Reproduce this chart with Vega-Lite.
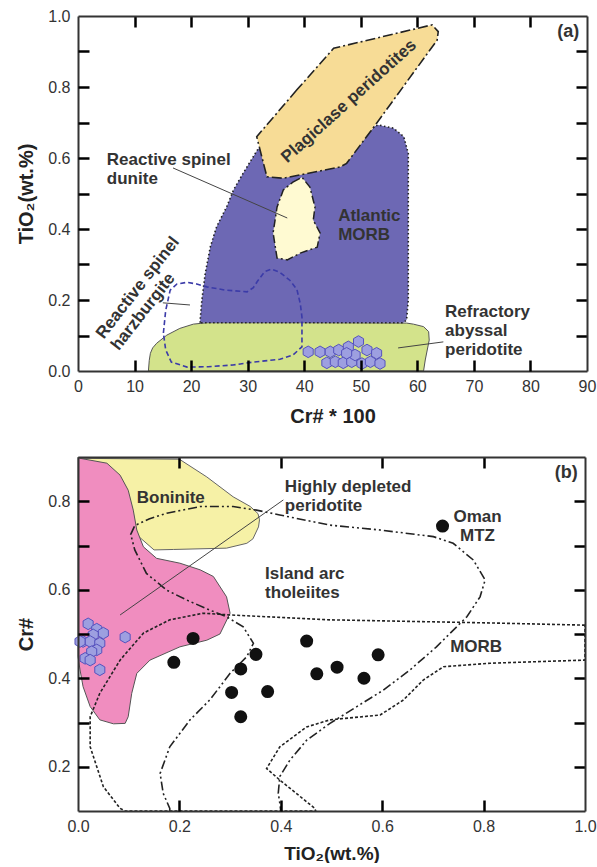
{
  "$schema": "https://vega.github.io/schema/vega-lite/v6.json",
  "padding": {"left": 16, "top": 8, "right": 5, "bottom": 0},
  "spacing": 29,
  "config": {
    "font": "Liberation Sans",
    "view": {"stroke": null},
    "axis": {"grid": false, "domain": true, "domainColor": "#333", "domainWidth": 2, "tickColor": "#000", "tickWidth": 2.5, "tickSize": 11,
      "labelFont": "Liberation Sans", "labelFontSize": 16, "labelColor": "#333", "labelFlush": false, "labelOverlap": false, "labelBound": false,
      "titleFont": "Liberation Sans", "titleFontSize": 20, "titleFontWeight": "bold", "titleColor": "#222"},
    "axisX": {"labelPadding": 7, "titlePadding": 12},
    "axisY": {"labelPadding": 8, "titlePadding": 11},
    "text": {"font": "Liberation Sans", "fontWeight": "bold", "fontSize": 17, "fill": "#333", "lineHeight": 19, "lineBreak": "\n", "baseline": "middle"}
  },
  "datasets": {
    "a_green": [
      {"x":12.45,"y":0},{"x":12.6,"y":0.03},{"x":12.8,"y":0.05},{"x":13.2,"y":0.065},{"x":13.9,"y":0.078},{"x":15.7,"y":0.101},{"x":18.0,"y":0.12},{"x":20.4,"y":0.132},{"x":22.8,"y":0.136},{"x":40,"y":0.136},{"x":58.1,"y":0.135},{"x":59.3,"y":0.132},{"x":61.1,"y":0.125},{"x":62,"y":0.111},{"x":62.1,"y":0.087},{"x":61.4,"y":0.031},{"x":61.1,"y":0}
    ],
    "a_purple": [
      {"x":21.6,"y":0.136},{"x":21.6,"y":0.144},{"x":21.9,"y":0.2},{"x":22.5,"y":0.275},{"x":23.4,"y":0.35},{"x":24.5,"y":0.406},{"x":26.3,"y":0.463},{"x":27.5,"y":0.51},{"x":29.2,"y":0.557},{"x":31,"y":0.604},{"x":31.9,"y":0.627},{"x":34,"y":0.6},{"x":36,"y":0.56},{"x":46,"y":0.58},{"x":52.5,"y":0.69},{"x":53.1,"y":0.693},{"x":55.8,"y":0.684},{"x":57.6,"y":0.66},{"x":58.4,"y":0.613},{"x":58.4,"y":0.48},{"x":58.4,"y":0.2},{"x":58.1,"y":0.144},{"x":57.5,"y":0.136}
    ],
    "a_plag": [
      {"x":38.7,"y":0.792},{"x":31.6,"y":0.66},{"x":33.4,"y":0.547},{"x":36.3,"y":0.543},{"x":46.4,"y":0.575},{"x":47.5,"y":0.585},{"x":52.8,"y":0.698},{"x":63.5,"y":0.932},{"x":63.7,"y":0.956},{"x":62.6,"y":0.975},{"x":45.2,"y":0.909}
    ],
    "a_dunite": [
      {"x":38.0,"y":0.532},{"x":39.6,"y":0.546},{"x":41.0,"y":0.518},{"x":41.9,"y":0.462},{"x":41.6,"y":0.425},{"x":42.8,"y":0.389},{"x":42.3,"y":0.349},{"x":39.3,"y":0.332},{"x":37.0,"y":0.313},{"x":35.2,"y":0.318},{"x":34.5,"y":0.389},{"x":35.2,"y":0.462},{"x":36.3,"y":0.51}
    ],
    "a_harz": [
      {"x":15.1,"y":0.107},{"x":15.5,"y":0.17},{"x":16.3,"y":0.228},{"x":17.5,"y":0.245},{"x":19.3,"y":0.25},{"x":21,"y":0.245},{"x":22.8,"y":0.237},{"x":26,"y":0.228},{"x":29.9,"y":0.223},{"x":31,"y":0.235},{"x":31.7,"y":0.252},{"x":33,"y":0.28},{"x":34.2,"y":0.287},{"x":35.7,"y":0.278},{"x":37.5,"y":0.255},{"x":38.7,"y":0.23},{"x":39.3,"y":0.19},{"x":39.6,"y":0.152},{"x":39.6,"y":0.068},{"x":38,"y":0.045},{"x":35.7,"y":0.033},{"x":31,"y":0.025},{"x":27.4,"y":0.017},{"x":23,"y":0.012},{"x":19.3,"y":0.011},{"x":16.5,"y":0.025},{"x":15.5,"y":0.06}
    ],
    "a_hex": [
      {"x":40.7,"y":0.054},{"x":42.8,"y":0.054},{"x":44.6,"y":0.054},{"x":46.1,"y":0.059},{"x":47.8,"y":0.068},{"x":49.6,"y":0.083},{"x":51.1,"y":0.059},{"x":52.8,"y":0.05},{"x":44.0,"y":0.023},{"x":45.5,"y":0.026},{"x":46.9,"y":0.023},{"x":48.4,"y":0.026},{"x":50.2,"y":0.021},{"x":51.7,"y":0.026},{"x":53.4,"y":0.021},{"x":49.0,"y":0.045},{"x":47.5,"y":0.05}
    ],
    "a_lead": [
      {"x":16.8,"y":0.572,"x2":37.0,"y2":0.431},
      {"x":15.0,"y":0.192,"x2":19.8,"y2":0.186},
      {"x":56.6,"y":0.065,"x2":64.6,"y2":0.082}
    ],
    "a_text": [
      {"x":5.1,"y":0.594,"t":"Reactive spinel\ndunite"},
      {"x":46.0,"y":0.437,"t":"Atlantic\nMORB"},
      {"x":64.9,"y":0.166,"t":"Refractory\nabyssal\nperidotite"}
    ],
    "a_plagtext": [{"x":47.9,"y":0.76,"t":"Plagiclase peridotites"}],
    "a_harztext": [{"x":3.84,"y":0.097,"t":"Reactive spinel\nharzburgite"}],
    "a_tag": [{"x":86.7,"y":0.955,"t":"(a)"}],
    "b_bon": [
      {"x":0.004,"y":0.897},{"x":0.2,"y":0.895},{"x":0.254,"y":0.855},{"x":0.306,"y":0.81},{"x":0.34,"y":0.788},{"x":0.355,"y":0.772},{"x":0.358,"y":0.758},{"x":0.356,"y":0.742},{"x":0.345,"y":0.715},{"x":0.333,"y":0.705},{"x":0.293,"y":0.694},{"x":0.188,"y":0.691},{"x":0.15,"y":0.69},{"x":0.12,"y":0.72},{"x":0.08,"y":0.8},{"x":0.04,"y":0.88}
    ],
    "b_pink": [
      {"x":0,"y":0.9},{"x":0.004,"y":0.897},{"x":0.057,"y":0.886},{"x":0.083,"y":0.859},{"x":0.099,"y":0.825},{"x":0.109,"y":0.78},{"x":0.116,"y":0.735},{"x":0.129,"y":0.697},{"x":0.155,"y":0.671},{"x":0.201,"y":0.66},{"x":0.241,"y":0.645},{"x":0.267,"y":0.63},{"x":0.293,"y":0.584},{"x":0.3,"y":0.547},{"x":0.28,"y":0.5},{"x":0.254,"y":0.486},{"x":0.201,"y":0.471},{"x":0.142,"y":0.441},{"x":0.116,"y":0.411},{"x":0.106,"y":0.366},{"x":0.099,"y":0.313},{"x":0.093,"y":0.298},{"x":0.07,"y":0.297},{"x":0.043,"y":0.306},{"x":0.024,"y":0.336},{"x":0.01,"y":0.381},{"x":0.004,"y":0.419},{"x":0,"y":0.449}
    ],
    "b_morb": [
      {"x":1.0,"y":0.52},{"x":0.813,"y":0.525},{"x":0.497,"y":0.532},{"x":0.3,"y":0.543},{"x":0.247,"y":0.547},{"x":0.181,"y":0.532},{"x":0.129,"y":0.502},{"x":0.083,"y":0.441},{"x":0.043,"y":0.366},{"x":0.024,"y":0.313},{"x":0.024,"y":0.245},{"x":0.05,"y":0.155},{"x":0.083,"y":0.106},{"x":0.093,"y":0.1},{"x":0.469,"y":0.1},{"x":0.467,"y":0.106},{"x":0.398,"y":0.17},{"x":0.372,"y":0.196},{"x":0.398,"y":0.245},{"x":0.451,"y":0.29},{"x":0.497,"y":0.306},{"x":0.596,"y":0.317},{"x":0.642,"y":0.351},{"x":0.681,"y":0.396},{"x":0.721,"y":0.426},{"x":0.813,"y":0.434},{"x":1.0,"y":0.441}
    ],
    "b_iat": [
      {"x":0.181,"y":0.1},{"x":0.181,"y":0.106},{"x":0.168,"y":0.14},{"x":0.162,"y":0.185},{"x":0.181,"y":0.245},{"x":0.221,"y":0.306},{"x":0.26,"y":0.351},{"x":0.3,"y":0.411},{"x":0.333,"y":0.449},{"x":0.346,"y":0.479},{"x":0.326,"y":0.516},{"x":0.293,"y":0.539},{"x":0.26,"y":0.554},{"x":0.214,"y":0.577},{"x":0.175,"y":0.599},{"x":0.135,"y":0.637},{"x":0.112,"y":0.69},{"x":0.104,"y":0.725},{"x":0.112,"y":0.745},{"x":0.14,"y":0.76},{"x":0.175,"y":0.773},{"x":0.241,"y":0.788},{"x":0.306,"y":0.788},{"x":0.352,"y":0.78},{"x":0.398,"y":0.769},{"x":0.497,"y":0.746},{"x":0.596,"y":0.735},{"x":0.701,"y":0.72},{"x":0.74,"y":0.705},{"x":0.78,"y":0.667},{"x":0.803,"y":0.622},{"x":0.793,"y":0.584},{"x":0.767,"y":0.539},{"x":0.707,"y":0.471},{"x":0.655,"y":0.419},{"x":0.602,"y":0.373},{"x":0.55,"y":0.336},{"x":0.497,"y":0.298},{"x":0.451,"y":0.26},{"x":0.418,"y":0.215},{"x":0.398,"y":0.178},{"x":0.395,"y":0.14},{"x":0.398,"y":0.118},{"x":0.4,"y":0.1}
    ],
    "b_hex": [
      {"x":0.020,"y":0.523},{"x":0.037,"y":0.511},{"x":0.050,"y":0.502},{"x":0.030,"y":0.498},{"x":0.010,"y":0.483},{"x":0.024,"y":0.483},{"x":0.043,"y":0.479},{"x":0.004,"y":0.483},{"x":0.037,"y":0.464},{"x":0.027,"y":0.460},{"x":0.014,"y":0.445},{"x":0.024,"y":0.441},{"x":0.043,"y":0.419},{"x":0.093,"y":0.493}
    ],
    "b_pts": [
      {"x":0.227,"y":0.49},{"x":0.189,"y":0.436},{"x":0.351,"y":0.454},{"x":0.321,"y":0.421},{"x":0.303,"y":0.368},{"x":0.374,"y":0.37},{"x":0.321,"y":0.313},{"x":0.451,"y":0.484},{"x":0.471,"y":0.41},{"x":0.511,"y":0.425},{"x":0.564,"y":0.4},{"x":0.592,"y":0.453},{"x":0.719,"y":0.744}
    ],
    "b_lead": [{"x":0.083,"y":0.543,"x2":0.405,"y2":0.803}],
    "b_text": [
      {"x":0.116,"y":0.807,"t":"Boninite"},
      {"x":0.408,"y":0.832,"t":"Highly depleted\nperidotite"},
      {"x":0.369,"y":0.636,"t":"Island arc\ntholeiites"},
      {"x":0.734,"y":0.471,"t":"MORB"}
    ],
    "b_oman": [{"x":0.788,"y":0.764,"t":"Oman\nMTZ"}],
    "b_tag": [{"x":0.963,"y":0.864,"t":"(b)"}]
  },
  "vconcat": [
    {
      "width": 509,
      "height": 355,
      "resolve": {"axis": {"x": "independent", "y": "independent"}},
      "layer": [
        {
          "data": {"name": "a_green"},
          "mark": {"type": "line", "interpolate": "linear-closed", "fill": "#d3e38b", "stroke": "#555", "strokeWidth": 1},
          "encoding": {
            "x": {"field": "x", "type": "quantitative", "scale": {"domain": [0, 90], "nice": false, "zero": false},
              "axis": {"orient": "bottom", "values": [0,10,20,30,40,50,60,70,80,90], "title": "Cr# * 100", "ticks": false, "zindex": 2}},
            "y": {"field": "y", "type": "quantitative", "scale": {"domain": [0, 1], "nice": false, "zero": false},
              "axis": {"orient": "left", "values": [0,0.2,0.4,0.6,0.8,1.0], "format": ".1f", "title": "TiO₂(wt.%)", "ticks": false, "zindex": 2}},
            "order": {"value": null}
          }
        },
        {
          "data": {"name": "a_purple"},
          "mark": {"type": "line", "interpolate": "linear-closed", "fill": "#6d68b4", "stroke": "#222", "strokeWidth": 1.6, "strokeDash": [1.5, 2.5]},
          "encoding": {
            "x": {"field": "x", "type": "quantitative", "scale": {"domain": [0, 90], "nice": false, "zero": false},
              "axis": {"orient": "bottom", "offset": -355, "values": [10,20,30,40,50,60,70,80], "labels": false, "domain": false, "title": null, "ticks": true, "tickSize": 11, "tickWidth": 2.5, "tickColor": "#000", "zindex": 2}},
            "y": {"field": "y", "type": "quantitative", "scale": {"domain": [0, 1], "nice": false, "zero": false},
              "axis": {"orient": "left", "offset": -509, "values": [0.1,0.2,0.3,0.4,0.5,0.6,0.7,0.8,0.9], "labels": false, "domain": false, "title": null, "ticks": true, "tickSize": 11, "tickWidth": 2.5, "tickColor": "#000", "zindex": 2}},
            "order": {"value": null}
          }
        },
        {
          "data": {"name": "a_plag"},
          "mark": {"type": "line", "interpolate": "linear-closed", "fill": "#f7dc96", "stroke": "#222", "strokeWidth": 1.6, "strokeDash": [10, 3, 2, 3]},
          "encoding": {
            "x": {"field": "x", "type": "quantitative", "scale": {"domain": [0, 90], "nice": false, "zero": false}, "axis": null},
            "y": {"field": "y", "type": "quantitative", "scale": {"domain": [0, 1], "nice": false, "zero": false}, "axis": null},
            "order": {"value": null}
          }
        },
        {
          "data": {"name": "a_dunite"},
          "mark": {"type": "line", "interpolate": "linear-closed", "fill": "#fffad2", "stroke": "#222", "strokeWidth": 1.5, "strokeDash": [8, 3, 2, 3]},
          "encoding": {
            "x": {"field": "x", "type": "quantitative", "scale": {"domain": [0, 90], "nice": false, "zero": false},
              "axis": {"orient": "top", "labels": false, "ticks": false, "title": null, "zindex": 2}},
            "y": {"field": "y", "type": "quantitative", "scale": {"domain": [0, 1], "nice": false, "zero": false},
              "axis": {"orient": "right", "labels": false, "ticks": false, "title": null, "zindex": 2}},
            "order": {"value": null}
          }
        },
        {
          "data": {"name": "a_harz"},
          "mark": {"type": "line", "interpolate": "linear-closed", "stroke": "#3b3ba8", "strokeWidth": 1.6, "strokeDash": [5, 3]},
          "encoding": {
            "x": {"field": "x", "type": "quantitative", "scale": {"domain": [0, 90], "nice": false, "zero": false}, "axis": null},
            "y": {"field": "y", "type": "quantitative", "scale": {"domain": [0, 1], "nice": false, "zero": false}, "axis": null},
            "order": {"value": null}
          }
        },
        {
          "data": {"name": "a_lead"},
          "mark": {"type": "rule", "stroke": "#444", "strokeWidth": 1},
          "encoding": {
            "x": {"field": "x", "type": "quantitative", "scale": {"domain": [0, 90], "nice": false, "zero": false}, "axis": null},
            "y": {"field": "y", "type": "quantitative", "scale": {"domain": [0, 1], "nice": false, "zero": false}, "axis": null},
            "x2": {"field": "x2"},
            "y2": {"field": "y2"}
          }
        },
        {
          "data": {"name": "a_hex"},
          "mark": {"type": "point", "shape": "M0,-1L0.866,-0.5L0.866,0.5L0,1L-0.866,0.5L-0.866,-0.5Z", "size": 135, "filled": true, "fill": "#9d9fe0", "stroke": "#5552be", "strokeWidth": 1, "opacity": 1},
          "encoding": {
            "x": {"field": "x", "type": "quantitative", "scale": {"domain": [0, 90], "nice": false, "zero": false},
              "axis": {"orient": "top", "offset": -355, "values": [10,20,30,40,50,60,70,80], "labels": false, "domain": false, "title": null, "ticks": true, "tickSize": 11, "tickWidth": 2.5, "tickColor": "#000", "zindex": 2}},
            "y": {"field": "y", "type": "quantitative", "scale": {"domain": [0, 1], "nice": false, "zero": false},
              "axis": {"orient": "right", "offset": -509, "values": [0.1,0.2,0.3,0.4,0.5,0.6,0.7,0.8,0.9], "labels": false, "domain": false, "title": null, "ticks": true, "tickSize": 11, "tickWidth": 2.5, "tickColor": "#000", "zindex": 2}}
          }
        },
        {
          "data": {"name": "a_text"},
          "mark": {"type": "text", "align": "left"},
          "encoding": {
            "x": {"field": "x", "type": "quantitative", "scale": {"domain": [0, 90], "nice": false, "zero": false}, "axis": null},
            "y": {"field": "y", "type": "quantitative", "scale": {"domain": [0, 1], "nice": false, "zero": false}, "axis": null},
            "text": {"field": "t", "type": "nominal"}
          }
        },
        {
          "data": {"name": "a_plagtext"},
          "mark": {"type": "text", "align": "center", "angle": 318},
          "encoding": {
            "x": {"field": "x", "type": "quantitative", "scale": {"domain": [0, 90], "nice": false, "zero": false}, "axis": null},
            "y": {"field": "y", "type": "quantitative", "scale": {"domain": [0, 1], "nice": false, "zero": false}, "axis": null},
            "text": {"field": "t", "type": "nominal"}
          }
        },
        {
          "data": {"name": "a_harztext"},
          "mark": {"type": "text", "align": "left", "angle": 308},
          "encoding": {
            "x": {"field": "x", "type": "quantitative", "scale": {"domain": [0, 90], "nice": false, "zero": false}, "axis": null},
            "y": {"field": "y", "type": "quantitative", "scale": {"domain": [0, 1], "nice": false, "zero": false}, "axis": null},
            "text": {"field": "t", "type": "nominal"}
          }
        },
        {
          "data": {"name": "a_tag"},
          "mark": {"type": "text", "align": "center", "fontSize": 18},
          "encoding": {
            "x": {"field": "x", "type": "quantitative", "scale": {"domain": [0, 90], "nice": false, "zero": false}, "axis": null},
            "y": {"field": "y", "type": "quantitative", "scale": {"domain": [0, 1], "nice": false, "zero": false}, "axis": null},
            "text": {"field": "t", "type": "nominal"}
          }
        }
      ]
    },
    {
      "width": 507,
      "height": 354,
      "resolve": {"axis": {"x": "independent", "y": "independent"}},
      "layer": [
        {
          "data": {"name": "b_bon"},
          "mark": {"type": "line", "interpolate": "linear-closed", "fill": "#f6f1a6", "stroke": "#666", "strokeWidth": 1},
          "encoding": {
            "x": {"field": "x", "type": "quantitative", "scale": {"domain": [0, 1], "nice": false, "zero": false},
              "axis": {"orient": "bottom", "values": [0,0.2,0.4,0.6,0.8,1.0], "format": ".1f", "title": "TiO₂(wt.%)", "titleFontSize": 19, "titlePadding": 10, "ticks": false, "zindex": 2}},
            "y": {"field": "y", "type": "quantitative", "scale": {"domain": [0.1, 0.9], "nice": false, "zero": false},
              "axis": {"orient": "left", "values": [0.2,0.4,0.6,0.8], "format": ".1f", "title": "Cr#", "ticks": false, "zindex": 2}},
            "order": {"value": null}
          }
        },
        {
          "data": {"name": "b_pink"},
          "mark": {"type": "line", "interpolate": "linear-closed", "fill": "#f08dbf", "stroke": "#555", "strokeWidth": 1},
          "encoding": {
            "x": {"field": "x", "type": "quantitative", "scale": {"domain": [0, 1], "nice": false, "zero": false},
              "axis": {"orient": "bottom", "offset": -354, "values": [0.2,0.4,0.6,0.8], "labels": false, "domain": false, "title": null, "ticks": true, "tickSize": 11, "tickWidth": 2.5, "tickColor": "#000", "zindex": 2}},
            "y": {"field": "y", "type": "quantitative", "scale": {"domain": [0.1, 0.9], "nice": false, "zero": false},
              "axis": {"orient": "left", "offset": -507, "values": [0.2,0.3,0.4,0.5,0.6,0.7,0.8], "labels": false, "domain": false, "title": null, "ticks": true, "tickSize": 11, "tickWidth": 2.5, "tickColor": "#000", "zindex": 2}},
            "order": {"value": null}
          }
        },
        {
          "data": {"name": "b_morb"},
          "mark": {"type": "line", "interpolate": "linear-closed", "stroke": "#222", "strokeWidth": 1.6, "strokeDash": [3, 2]},
          "encoding": {
            "x": {"field": "x", "type": "quantitative", "scale": {"domain": [0, 1], "nice": false, "zero": false},
              "axis": {"orient": "top", "labels": false, "ticks": false, "title": null, "zindex": 2}},
            "y": {"field": "y", "type": "quantitative", "scale": {"domain": [0.1, 0.9], "nice": false, "zero": false},
              "axis": {"orient": "right", "labels": false, "ticks": false, "title": null, "zindex": 2}},
            "order": {"value": null}
          }
        },
        {
          "data": {"name": "b_iat"},
          "mark": {"type": "line", "interpolate": "linear", "stroke": "#222", "strokeWidth": 1.6, "strokeDash": [9, 3, 2, 3, 2, 3]},
          "encoding": {
            "x": {"field": "x", "type": "quantitative", "scale": {"domain": [0, 1], "nice": false, "zero": false}, "axis": null},
            "y": {"field": "y", "type": "quantitative", "scale": {"domain": [0.1, 0.9], "nice": false, "zero": false}, "axis": null},
            "order": {"value": null}
          }
        },
        {
          "data": {"name": "b_lead"},
          "mark": {"type": "rule", "stroke": "#444", "strokeWidth": 1},
          "encoding": {
            "x": {"field": "x", "type": "quantitative", "scale": {"domain": [0, 1], "nice": false, "zero": false}, "axis": null},
            "y": {"field": "y", "type": "quantitative", "scale": {"domain": [0.1, 0.9], "nice": false, "zero": false}, "axis": null},
            "x2": {"field": "x2"},
            "y2": {"field": "y2"}
          }
        },
        {
          "data": {"name": "b_hex"},
          "mark": {"type": "point", "shape": "M0,-1L0.866,-0.5L0.866,0.5L0,1L-0.866,0.5L-0.866,-0.5Z", "size": 135, "filled": true, "fill": "#9d9fe0", "stroke": "#5552be", "strokeWidth": 1, "opacity": 1},
          "encoding": {
            "x": {"field": "x", "type": "quantitative", "scale": {"domain": [0, 1], "nice": false, "zero": false}, "axis": null},
            "y": {"field": "y", "type": "quantitative", "scale": {"domain": [0.1, 0.9], "nice": false, "zero": false}, "axis": null}
          }
        },
        {
          "data": {"name": "b_pts"},
          "mark": {"type": "circle", "size": 170, "color": "#111", "opacity": 1},
          "encoding": {
            "x": {"field": "x", "type": "quantitative", "scale": {"domain": [0, 1], "nice": false, "zero": false},
              "axis": {"orient": "top", "offset": -354, "values": [0.2,0.4,0.6,0.8], "labels": false, "domain": false, "title": null, "ticks": true, "tickSize": 11, "tickWidth": 2.5, "tickColor": "#000", "zindex": 2}},
            "y": {"field": "y", "type": "quantitative", "scale": {"domain": [0.1, 0.9], "nice": false, "zero": false},
              "axis": {"orient": "right", "offset": -507, "values": [0.2,0.3,0.4,0.5,0.6,0.7,0.8], "labels": false, "domain": false, "title": null, "ticks": true, "tickSize": 11, "tickWidth": 2.5, "tickColor": "#000", "zindex": 2}}
          }
        },
        {
          "data": {"name": "b_text"},
          "mark": {"type": "text", "align": "left"},
          "encoding": {
            "x": {"field": "x", "type": "quantitative", "scale": {"domain": [0, 1], "nice": false, "zero": false}, "axis": null},
            "y": {"field": "y", "type": "quantitative", "scale": {"domain": [0.1, 0.9], "nice": false, "zero": false}, "axis": null},
            "text": {"field": "t", "type": "nominal"}
          }
        },
        {
          "data": {"name": "b_oman"},
          "mark": {"type": "text", "align": "center"},
          "encoding": {
            "x": {"field": "x", "type": "quantitative", "scale": {"domain": [0, 1], "nice": false, "zero": false}, "axis": null},
            "y": {"field": "y", "type": "quantitative", "scale": {"domain": [0.1, 0.9], "nice": false, "zero": false}, "axis": null},
            "text": {"field": "t", "type": "nominal"}
          }
        },
        {
          "data": {"name": "b_tag"},
          "mark": {"type": "text", "align": "center", "fontSize": 18},
          "encoding": {
            "x": {"field": "x", "type": "quantitative", "scale": {"domain": [0, 1], "nice": false, "zero": false}, "axis": null},
            "y": {"field": "y", "type": "quantitative", "scale": {"domain": [0.1, 0.9], "nice": false, "zero": false}, "axis": null},
            "text": {"field": "t", "type": "nominal"}
          }
        }
      ]
    }
  ]
}
